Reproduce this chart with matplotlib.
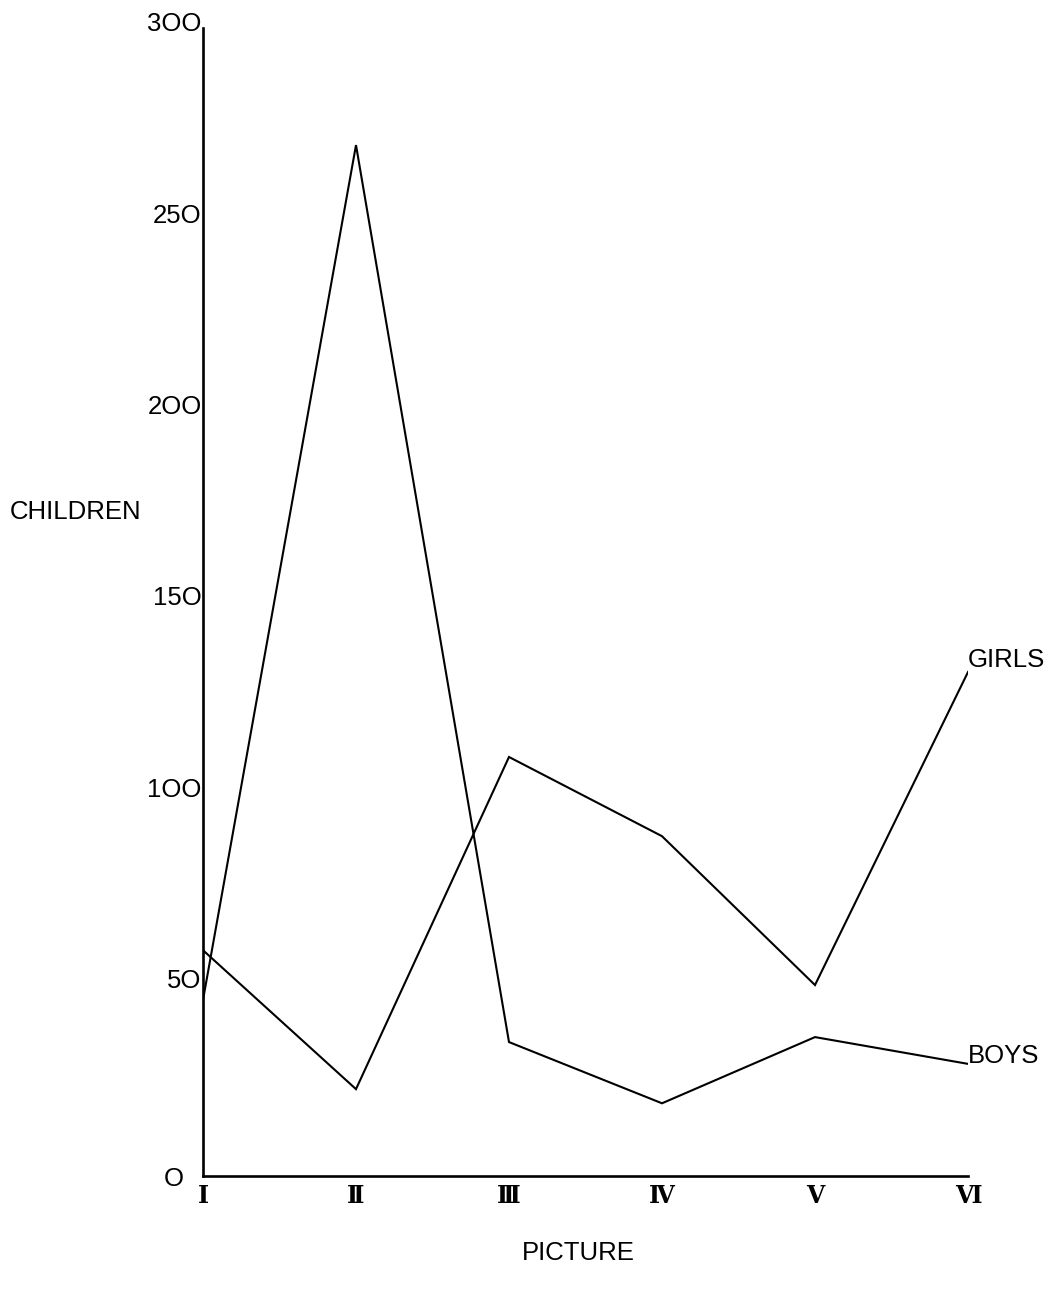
import matplotlib
matplotlib.use("Agg")
import matplotlib.pyplot as plt
import matplotlib.transforms as mtransforms

pictures = ["Ⅰ", "Ⅱ", "Ⅲ", "Ⅳ", "Ⅴ", "Ⅵ"]
girls = [59, 22.7, 109.5, 88.8, 49.9, 131.7]
boys = [46, 269.4, 35, 19, 36.3, 29.3]
yticks = [0, 50, 100, 150, 200, 250, 300]
ytick_labels = ["O", "5O", "1OO", "15O", "2OO", "25O", "3OO"]

W, H = 1054, 1298
fig = plt.figure(figsize=(W / 100, H / 100), dpi=100)
fig.patch.set_facecolor("white")
ax = fig.add_axes([203 / W, 122 / H, (968 - 203) / W, (1176 - 28) / H])

x = list(range(len(pictures)))
ax.plot(x, girls, color="black", lw=1.5, solid_joinstyle="miter")
ax.plot(x, boys, color="black", lw=1.5, solid_joinstyle="miter")

ax.set_xlim(0, len(pictures) - 1)
ax.set_ylim(0, 300)
for s in ["top", "right"]:
    ax.spines[s].set_visible(False)
for s in ["left", "bottom"]:
    ax.spines[s].set_linewidth(1.9)
    ax.spines[s].set_color("black")

ax.set_yticks(yticks)
ax.set_yticklabels(ytick_labels, family=["Liberation Sans", "DejaVu Sans"], fontsize=18.5)
ax.set_xticks(x)
ax.set_xticklabels(pictures, family=["DejaVu Serif", "DejaVu Sans"], fontsize=17, fontweight="bold")
ax.tick_params(axis="y", length=0, pad=1)
ax.tick_params(axis="x", length=0, pad=6)

shift = mtransforms.ScaledTranslation(0, 6 / 100, fig.dpi_scale_trans)
shift0 = mtransforms.ScaledTranslation(-18 / 100, 0, fig.dpi_scale_trans)
for i, lab in enumerate(ax.get_yticklabels()):
    if i > 0:
        lab.set_transform(lab.get_transform() + shift)
    else:
        lab.set_transform(lab.get_transform() + shift0)

fig.text(10 / W, 1 - 512 / H, "CHILDREN", family="Liberation Sans", fontsize=18.5,
         ha="left", va="center")
fig.text(578 / W, 1 - 1253 / H, "PICTURE", family="Liberation Sans", fontsize=18.5,
         ha="center", va="center")

ax.annotate("GIRLS", xy=(x[-1], girls[-1]), xytext=(0, 0), textcoords="offset points",
            family="Liberation Sans", fontsize=18.5, ha="left", va="bottom",
            annotation_clip=False)
ax.annotate("BOYS", xy=(x[-1], boys[-1]), xytext=(0, -3), textcoords="offset points",
            family="Liberation Sans", fontsize=18.5, ha="left", va="bottom",
            annotation_clip=False)

fig.savefig("out.png", dpi=100, facecolor="white")
